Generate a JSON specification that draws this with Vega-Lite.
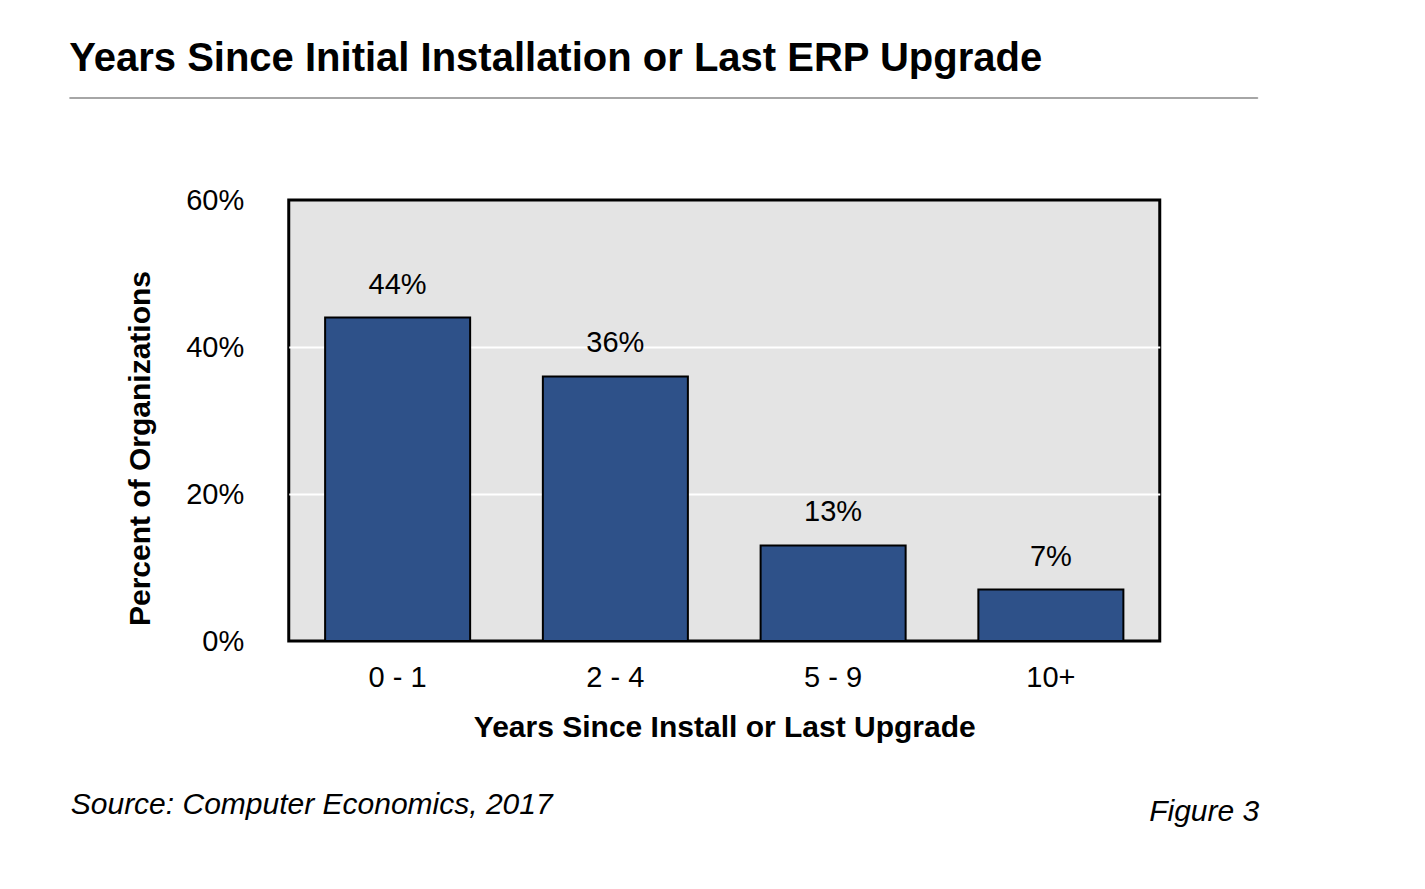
{
  "$schema": "https://vega.github.io/schema/vega-lite/v6.json",
  "background": "white",
  "padding": {"left": 68, "top": 38, "right": 20, "bottom": 20},
  "config": {
    "font": "Liberation Sans, Arial, sans-serif",
    "title": {"color": "black"},
    "axis": {"labelColor": "black", "titleColor": "black"}
  },
  "datasets": {
    "erp": [
      {"years": "0 - 1", "share": 0.44},
      {"years": "2 - 4", "share": 0.36},
      {"years": "5 - 9", "share": 0.13},
      {"years": "10+", "share": 0.07}
    ]
  },
  "spacing": 80,
  "center": true,
  "vconcat": [
    {
      "width": 1188,
      "height": 1,
      "view": {"stroke": "#a6a6a6", "strokeWidth": 1, "fill": "#a6a6a6"},
      "title": {
        "text": "Years Since Initial Installation or Last ERP Upgrade",
        "anchor": "start",
        "frame": "group",
        "fontSize": 40,
        "fontWeight": "bold",
        "offset": 12
      },
      "data": {"name": "erp"},
      "mark": {"type": "text"},
      "encoding": {
        "y": {
          "field": "share",
          "type": "quantitative",
          "axis": {
            "orient": "right",
            "title": null,
            "labels": false,
            "ticks": false,
            "grid": false,
            "domain": true,
            "domainColor": "white",
            "offset": 222
          }
        },
        "text": {"value": ""}
      }
    },
    {
      "width": 871,
      "height": 441,
      "view": {"fill": "#e4e4e4", "stroke": "black", "strokeWidth": 3},
      "title": {
        "text": "Source: Computer Economics, 2017",
        "orient": "bottom",
        "anchor": "start",
        "frame": "group",
        "dx": -218,
        "fontSize": 30,
        "fontStyle": "italic",
        "fontWeight": "normal",
        "offset": -36
      },
      "data": {"name": "erp"},
      "encoding": {
        "x": {
          "field": "years",
          "type": "ordinal",
          "sort": null,
          "scale": {"paddingInner": 0.334, "paddingOuter": 0.167},
          "axis": {
            "title": "Years Since Install or Last Upgrade",
            "titleFontSize": 30,
            "titleFontWeight": "bold",
            "titlePadding": 20,
            "labelFontSize": 29,
            "labelPadding": 22,
            "labelAngle": 0,
            "domain": false,
            "ticks": false,
            "tickSize": 0
          }
        }
      },
      "layer": [
        {
          "mark": {"type": "bar", "color": "#2e5189", "stroke": "black", "strokeWidth": 2},
          "encoding": {
            "y": {
              "field": "share",
              "type": "quantitative",
              "scale": {"domain": [0, 0.6]},
              "axis": {
                "orient": "left",
                "title": "Percent of Organizations",
                "titleFontSize": 30,
                "titleFontWeight": "bold",
                "titlePadding": 30,
                "titleY": 248,
                "values": [0, 0.2, 0.4, 0.6],
                "format": ".0%",
                "labelFontSize": 29,
                "labelPadding": 45,
                "domain": false,
                "ticks": false,
                "tickSize": 0,
                "gridColor": "white",
                "gridWidth": 2,
                "gridOpacity": {
                  "condition": {"test": "datum.value > 0 && datum.value < 0.6", "value": 1},
                  "value": 0
                }
              }
            }
          }
        },
        {
          "mark": {"type": "text", "baseline": "alphabetic", "dy": -24, "fontSize": 29, "color": "black"},
          "encoding": {
            "y": {
              "field": "share",
              "type": "quantitative",
              "scale": {"domain": [0, 0.6]},
              "axis": {
                "orient": "right",
                "title": "Figure 3",
                "titleFontSize": 30,
                "titleFontStyle": "italic",
                "titleFontWeight": "normal",
                "titleAngle": 0,
                "titleAlign": "right",
                "titleBaseline": "alphabetic",
                "titleX": 99,
                "titleY": 620,
                "labels": false,
                "domain": false,
                "ticks": false,
                "grid": false
              }
            },
            "text": {"field": "share", "format": ".0%"}
          }
        }
      ],
      "resolve": {"axis": {"y": "independent"}}
    }
  ]
}
